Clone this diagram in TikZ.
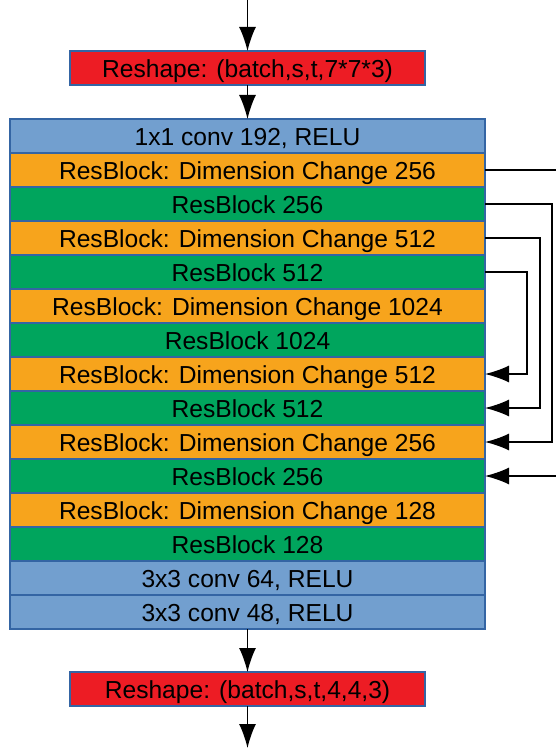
\documentclass[tikz,border=0pt]{standalone}
\usepackage{fontspec}
\setmainfont{Liberation Sans}
\usepackage{tikz}
\usetikzlibrary{arrows}
\usetikzlibrary{arrows.meta}
\usetikzlibrary{positioning}
\definecolor{convblue}{RGB}{114,159,207}
\definecolor{resorange}{RGB}{247,164,28}
\definecolor{resgreen}{RGB}{0,165,93}
\definecolor{shapered}{RGB}{237,28,36}
\definecolor{edgeblue}{RGB}{52,101,164}
\tikzset{>={Latex[length=4.8mm,width=3.4mm]}}
\tikzstyle{layer} = [rectangle, draw=edgeblue, line width=0.6pt, outer sep=0pt, minimum width=9.5cm, minimum height=0.68cm, inner sep=0pt, text height=13pt, text depth=2pt, font=\fontsize{14}{16}\selectfont]
\tikzstyle{conv} = [layer, fill=convblue]
\tikzstyle{dimchg} = [layer, fill=resorange]
\tikzstyle{res} = [layer, fill=resgreen]
\tikzstyle{reshape} = [layer, fill=shapered, minimum width=7.1cm]
\tikzstyle{flow} = [->, line width=0.9pt]
\begin{document}
\begin{tikzpicture}
\useasboundingbox (0,0) rectangle (11.12,-14.96);
\coordinate (In) at (4.95, 0);
\coordinate (Out) at (4.95, -14.96);
\coordinate (SkipOut) at (11.12, -3.40);
\coordinate (SkipIn) at (11.12, -9.52);
\node [reshape] (R1) at (4.95, -1.36) {Reshape: (batch,s,t,7*7*3)};
\node [conv] (L0) at (4.95, -2.72) {1x1 conv 192, RELU};
\node [dimchg] (L1) at (4.95, -3.40) {ResBlock: Dimension Change 256};
\node [res] (L2) at (4.95, -4.08) {ResBlock 256};
\node [dimchg] (L3) at (4.95, -4.76) {ResBlock: Dimension Change 512};
\node [res] (L4) at (4.95, -5.44) {ResBlock 512};
\node [dimchg] (L5) at (4.95, -6.12) {ResBlock: Dimension Change 1024};
\node [res] (L6) at (4.95, -6.80) {ResBlock 1024};
\node [dimchg] (L7) at (4.95, -7.48) {ResBlock: Dimension Change 512};
\node [res] (L8) at (4.95, -8.16) {ResBlock 512};
\node [dimchg] (L9) at (4.95, -8.84) {ResBlock: Dimension Change 256};
\node [res] (L10) at (4.95, -9.52) {ResBlock 256};
\node [dimchg] (L11) at (4.95, -10.20) {ResBlock: Dimension Change 128};
\node [res] (L12) at (4.95, -10.88) {ResBlock 128};
\node [conv] (L13) at (4.95, -11.56) {3x3 conv 64, RELU};
\node [conv] (L14) at (4.95, -12.24) {3x3 conv 48, RELU};
\node [reshape] (R2) at (4.95, -13.78) {Reshape: (batch,s,t,4,4,3)};
\draw [flow] (In) to (R1);
\draw [flow] (R1) to (L0);
\draw [flow] (L14) to (R2);
\draw [flow] (R2) to (Out);
% skip connections
\draw [line width=0.9pt] (L1.east) to (SkipOut);
\draw [flow] (SkipIn) to (L10.east);
\draw [flow] (L2.east) -- ++(1.34,0) |- (L9.east);
\draw [flow] (L3.east) -- ++(1.10,0) |- (L8.east);
\draw [flow] (L4.east) -- ++(0.84,0) |- (L7.east);
\end{tikzpicture}
\end{document}
